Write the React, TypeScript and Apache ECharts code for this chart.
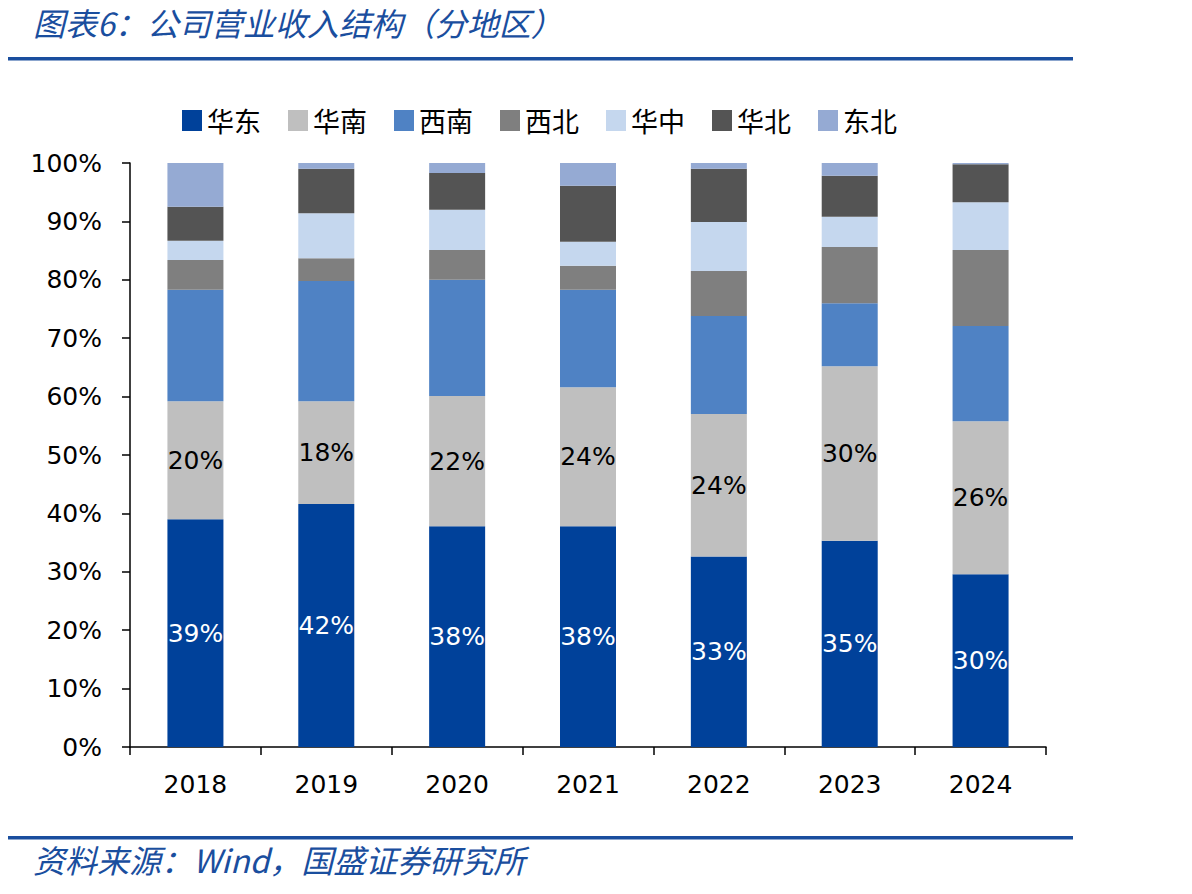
import React, { useEffect, useRef } from "react";
import * as echarts from "echarts";

// Revenue structure by region, share of total (%)
const years = ["2018", "2019", "2020", "2021", "2022", "2023", "2024"];
const regions = ["华东", "华南", "西南", "西北", "华中", "华北", "东北"];

const eastChina = [39.0, 41.6, 37.8, 37.8, 32.6, 35.3, 29.6];
const southChina = [20.2, 17.6, 22.3, 23.8, 24.4, 29.9, 26.2];
const southwest = [19.1, 20.6, 19.9, 16.7, 16.8, 10.8, 16.3];
const northwest = [5.1, 3.9, 5.1, 4.1, 7.7, 9.6, 13.0];
const centralChina = [3.3, 7.7, 6.9, 4.1, 8.4, 5.2, 8.2];
const northChina = [5.8, 7.6, 6.3, 9.6, 9.1, 7.0, 6.5];
const northeast = [7.5, 1.0, 1.7, 3.9, 1.0, 2.2, 0.2];

const seriesData = [eastChina, southChina, southwest, northwest, centralChina, northChina, northeast];
const colors = ["#00419A", "#BFBFBF", "#4F82C4", "#7F7F7F", "#C5D7EE", "#545454", "#95AAD3"];
const labelColors: (string | null)[] = ["#FFFFFF", "#000000", null, null, null, null, null];

const yTicks = { min: 0, max: 100, interval: 10 };

const titleText = "图表6：公司营业收入结构（分地区）";
const sourceText = "资料来源：Wind，国盛证券研究所";

const numFont = "'DejaVu Sans', Verdana, sans-serif";
const cjkFont = "'Noto Sans CJK SC', sans-serif";
const brandBlue = "#1A4E9E";

export default function App() {
  const ref = useRef<HTMLDivElement>(null);

  useEffect(() => {
    if (!ref.current) return;
    const chart = echarts.init(ref.current, null, { renderer: "svg" });

    const series = regions.map((name, i) => ({
      name,
      type: "bar" as const,
      stack: "total",
      barWidth: 56,
      data: seriesData[i],
      itemStyle: { color: colors[i] },
      label: labelColors[i]
        ? {
            show: true,
            position: "inside" as const,
            color: labelColors[i] as string,
            fontSize: 25,
            fontFamily: numFont,
            formatter: (p: any) => Math.round(p.value) + "%",
          }
        : { show: false },
    }));

    chart.setOption({
      animation: false,
      backgroundColor: "#FFFFFF",
      color: colors,
      title: {
        text: titleText,
        left: 33,
        top: 6,
        padding: 0,
        textStyle: {
          fontSize: 32,
          fontWeight: "normal",
          fontStyle: "italic",
          fontFamily: cjkFont,
          color: brandBlue,
        },
      },
      grid: { left: 130, right: 146, top: 163, bottom: 147, containLabel: false },
      legend: {
        data: regions,
        left: 177,
        top: 102,
        itemWidth: 20,
        itemHeight: 21,
        itemGap: 27,
        icon: "rect",
        textStyle: { fontSize: 27, color: "#000000", fontFamily: cjkFont },
      },
      xAxis: {
        type: "category",
        data: years,
        axisLine: { show: true, lineStyle: { color: "#000000", width: 1.5 } },
        axisTick: { show: true, length: 8, interval: 0, alignWithLabel: false, lineStyle: { color: "#000000", width: 1.5 } },
        axisLabel: { fontSize: 25, color: "#000000", fontFamily: numFont, margin: 25 },
      },
      yAxis: {
        type: "value",
        min: yTicks.min,
        max: yTicks.max,
        interval: yTicks.interval,
        axisLine: { show: true, lineStyle: { color: "#000000", width: 1.5 } },
        axisTick: { show: true, length: 8, lineStyle: { color: "#000000", width: 1.5 } },
        splitLine: { show: false },
        axisLabel: { fontSize: 25, color: "#000000", fontFamily: numFont, margin: 28, formatter: "{value}%" },
      },
      graphic: [
        { type: "rect", shape: { x: 0, y: 57, width: 1073, height: 3.5 }, style: { fill: brandBlue } },
        { type: "rect", shape: { x: 0, y: 836, width: 1073, height: 3.5 }, style: { fill: brandBlue } },
        {
          type: "text",
          left: 33,
          top: 843,
          style: {
            text: sourceText,
            fontSize: 32,
            fontStyle: "italic",
            fontFamily: cjkFont,
            fill: brandBlue,
          },
        },
      ],
      series,
    });

    return () => chart.dispose();
  }, []);

  return <div ref={ref} style={{ width: 1192, height: 894, margin: -8 }} />;
}
